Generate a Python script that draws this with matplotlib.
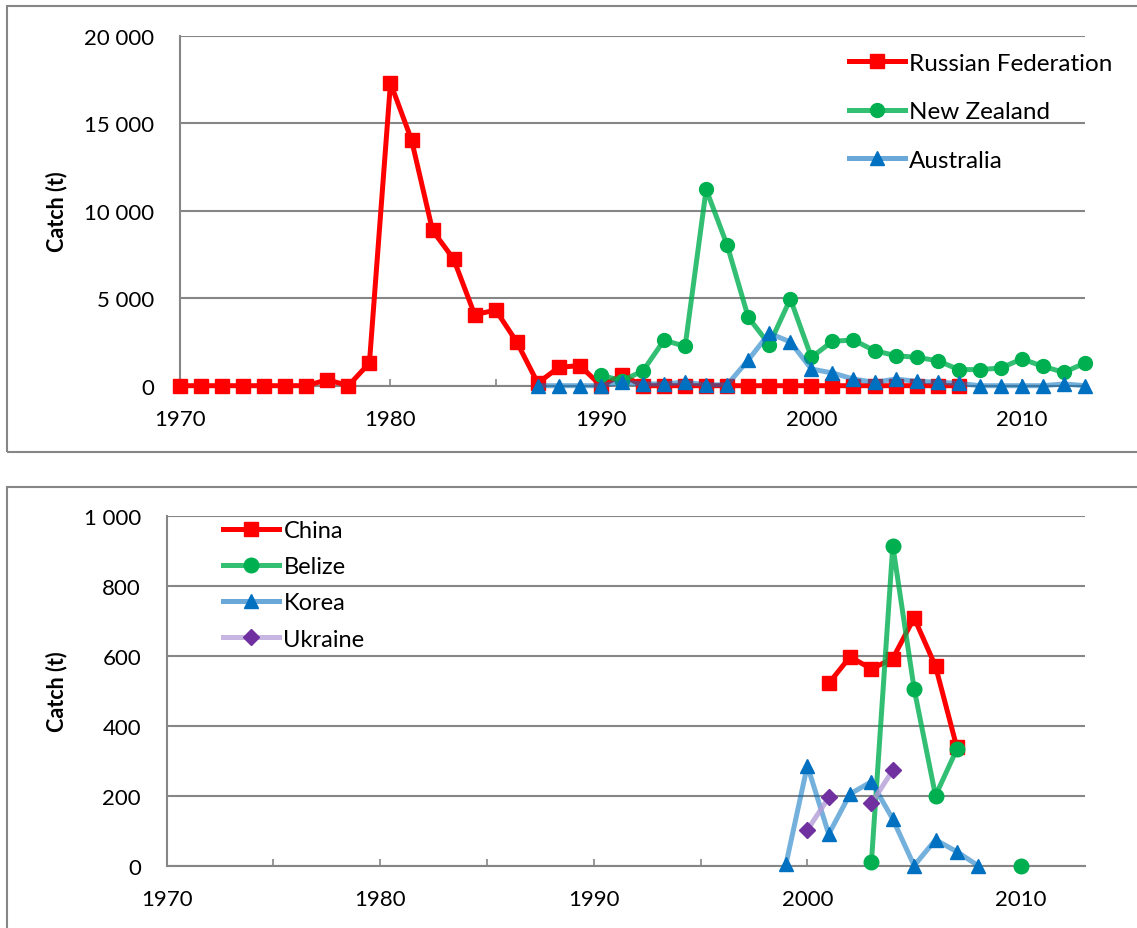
import numpy as np
import matplotlib
matplotlib.use("Agg")
import matplotlib.pyplot as plt
from matplotlib.patches import Rectangle
from matplotlib.ticker import FuncFormatter, MultipleLocator

plt.rcParams["font.family"] = ["Lato", "DejaVu Sans"]

# top panel
rus_years = np.arange(1970, 2008)
rus_catch = [0, 0, 0, 0, 0, 0, 0, 340, 0, 1300, 17300, 14050, 8870, 7240, 4060,
             4320, 2500, 150, 1050, 1150, 0, 600,
             0, 0, 0, 0, 0, 0, 0, 0, 0, 0, 0, 0, 0, 0, 0, 0]
nz_years = np.arange(1990, 2014)
nz_catch = [600, 280, 850, 2600, 2250, 11220, 8020, 3910, 2350, 4960, 1620, 2540,
            2610, 2000, 1720, 1620, 1430, 920, 920, 1010, 1530, 1110, 760, 1300]
aus_years = np.arange(1987, 2014)
aus_catch = [0, 0, 0, 0, 200, 100, 100, 200, 50, 50, 1470, 3000, 2500, 950, 730,
             380, 190, 380, 250, 200, 130, 0, 0, 0, 0, 100, 0]

# bottom panel
chn_years = np.arange(2001, 2008)
chn_catch = [521, 597, 562, 592, 708, 570, 338]
blz_years = np.arange(2003, 2011)
blz_catch = [11, 914, 505, 200, 333, np.nan, np.nan, 0]
kor_years = np.arange(1999, 2009)
kor_catch = [5, 286, 90, 205, 240, 133, 0, 74, 40, 0]
ukr_years = np.arange(2000, 2005)
ukr_catch = [102, 195, np.nan, 178, 273]

W, H = 1137, 929
fig = plt.figure(figsize=(W / 100, H / 100), dpi=100)

grey = "#868686"

# chart area frames
for (x0, y0, x1, y1) in [(7, 7, 1145, 452.5), (7, 488, 1145, 940)]:
    fig.patches.append(Rectangle((x0 / W, 1 - y1 / H), (x1 - x0) / W, (y1 - y0) / H,
                                 transform=fig.transFigure, fill=False,
                                 edgecolor=grey, lw=1.5))


def fmt(v, pos):
    return f"{int(v):,}".replace(",", " ")


def style(ax, ymax, ystep):
    ax.set_xlim(1970, 2013)
    ax.set_ylim(0, ymax)
    ax.yaxis.set_major_locator(MultipleLocator(ystep))
    ax.yaxis.set_major_formatter(FuncFormatter(fmt))
    ax.xaxis.set_major_locator(MultipleLocator(10))
    ax.xaxis.set_minor_locator(MultipleLocator(5))
    ax.grid(axis="y", color=grey, lw=1.5)
    ax.set_axisbelow(True)
    for s in ["top", "right"]:
        ax.spines[s].set_visible(False)
    for s in ["left", "bottom"]:
        ax.spines[s].set_color(grey)
        ax.spines[s].set_linewidth(1.5)
    ax.tick_params(axis="y", length=0, pad=18.5, labelsize=16)
    ax.tick_params(axis="x", which="both", direction="in", length=5, color=grey,
                   width=1.2, pad=17, labelsize=16)
    ax.set_ylabel("Catch (t)", fontsize=15.5, fontweight="bold", labelpad=12)


def series(ax, x, y, lc, mc, marker, ms, lw=3.6, alpha=1.0, z=3):
    ax.plot(x, y, color=lc, lw=lw, alpha=alpha, zorder=z, clip_on=False,
            solid_capstyle="round")
    ax.plot(x, y, ls="none", marker=marker, ms=ms, color=mc, mec=mc,
            zorder=z + 0.5, clip_on=False)


# top panel
ax1 = fig.add_axes([180 / W, 1 - 386.7 / H, 905 / W, 350 / H])
style(ax1, 20000, 5000)
series(ax1, rus_years, rus_catch, "#FF0000", "#FF0000", "s", 10.5, z=3)
series(ax1, nz_years, nz_catch, "#00B050", "#00B050", "o", 10, alpha=0.8, z=4)
series(ax1, aus_years, aus_catch, "#0070C0", "#0070C0", "^", 10, alpha=0.55, z=5)

h = [
    plt.Line2D([], [], color="#FF0000", lw=3.6, marker="s", ms=10.5),
    plt.Line2D([], [], color="#33C073", lw=3.6, marker="o", ms=10, mfc="#00B050", mec="#00B050"),
    plt.Line2D([], [], color="#6AA8DA", lw=3.6, marker="^", ms=10, mfc="#0070C0", mec="#0070C0"),
]
ax1.legend(h, ["Russian Federation", "New Zealand", "Australia"], loc="upper left",
           bbox_to_anchor=(0.739, 0.951), frameon=False, fontsize=17.5,
           handlelength=2.3, handletextpad=0.17, labelspacing=1.13,
           borderpad=0, borderaxespad=0)

# bottom panel
ax2 = fig.add_axes([166.7 / W, 1 - 866.7 / H, 918.3 / W, 350 / H])
style(ax2, 1000, 200)
series(ax2, chn_years, chn_catch, "#FF0000", "#FF0000", "s", 10.5, z=3)
series(ax2, blz_years, blz_catch, "#00B050", "#00B050", "o", 10.5, alpha=0.8, z=4)
series(ax2, kor_years, kor_catch, "#0070C0", "#0070C0", "^", 10.5, alpha=0.55, z=5)
series(ax2, ukr_years, ukr_catch, "#B39DD8", "#7030A0", "D", 8, alpha=0.8, z=6)

h2 = [
    plt.Line2D([], [], color="#FF0000", lw=3.6, marker="s", ms=10.5),
    plt.Line2D([], [], color="#33C073", lw=3.6, marker="o", ms=10.5, mfc="#00B050", mec="#00B050"),
    plt.Line2D([], [], color="#6AA8DA", lw=3.6, marker="^", ms=10.5, mfc="#0070C0", mec="#0070C0"),
    plt.Line2D([], [], color="#C8B6E2", lw=3.6, marker="D", ms=8, mfc="#7030A0", mec="#7030A0"),
]
ax2.legend(h2, ["China", "Belize", "Korea", "Ukraine"], loc="upper left",
           bbox_to_anchor=(0.061, 0.987), frameon=False, fontsize=17,
           handlelength=2.4, handletextpad=0.17, labelspacing=0.64,
           borderpad=0, borderaxespad=0)

fig.savefig("out.png", dpi=100)
